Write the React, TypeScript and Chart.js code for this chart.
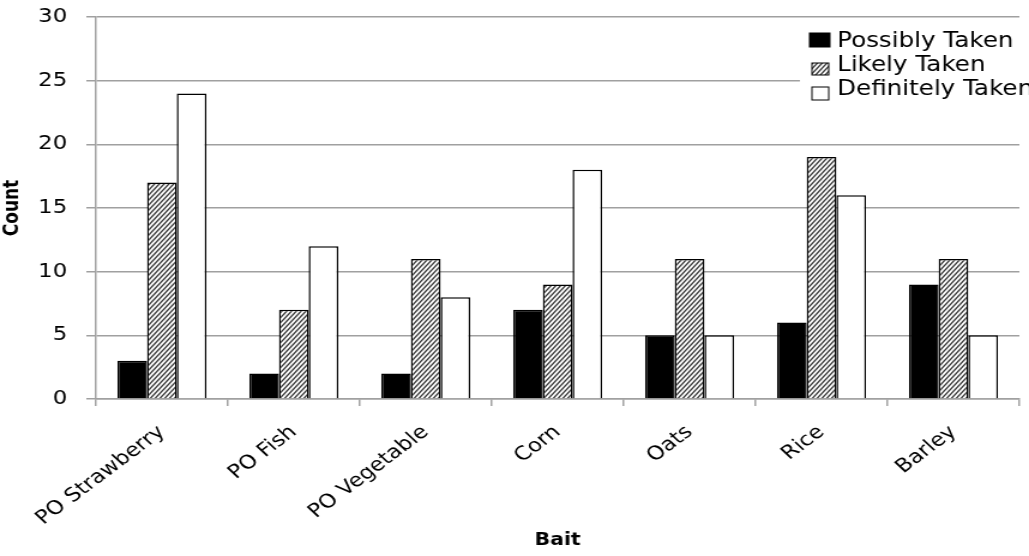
import { useEffect, useRef } from 'react';
import { Chart, registerables } from 'chart.js';

Chart.register(...registerables);

const categories = ['PO Strawberry', 'PO Fish', 'PO Vegetable', 'Corn', 'Oats', 'Rice', 'Barley'];
const possiblyTaken = [3, 2, 2, 7, 5, 6, 9];
const likelyTaken = [17, 7, 11, 9, 11, 19, 11];
const definitelyTaken = [24, 12, 8, 18, 5, 16, 5];
const seriesLabels = ['Possibly Taken', 'Likely Taken', 'Definitely Taken'];
const yTickValues = [0, 5, 10, 15, 20, 25, 30];
const yTitle = 'Count';
const xTitle = 'Bait';

const CANVAS_W = 858;
const CANVAS_H = 556;
const FONT = 'DejaVu Sans';
const AXIS_GRAY = '#a0a0a0';

function makeHatch(): CanvasPattern | string {
  const w = 4;
  const h = 5;
  const c = document.createElement('canvas');
  c.width = w;
  c.height = h;
  const g = c.getContext('2d');
  if (!g) return '#888';
  g.fillStyle = '#ffffff';
  g.fillRect(0, 0, w, h);
  g.strokeStyle = '#383838';
  g.lineWidth = 1.4;
  for (const m of [0, 1, 2]) {
    g.beginPath();
    g.moveTo(-w, h * (m + 1));
    g.lineTo(2 * w, h * (m - 2));
    g.stroke();
  }
  const p = g.createPattern(c, 'repeat');
  return p || '#888';
}

export default function App() {
  const ref = useRef<HTMLCanvasElement>(null);

  useEffect(() => {
    document.body.style.margin = '0';
    const canvas = ref.current;
    if (!canvas) return;
    const hatch = makeHatch();

    const overlay = {
      id: 'overlay',
      afterDraw(chart: any) {
        const ctx = chart.ctx as CanvasRenderingContext2D;
        const area = chart.chartArea;
        ctx.save();
        // legend background
        ctx.fillStyle = '#ffffff';
        ctx.fillRect(667, 23, 200, 82);
        ctx.font = `20.5px ${FONT}`;
        ctx.textBaseline = 'alphabetic';
        ctx.textAlign = 'left';
        const baselines = [47, 70.5, 95];
        const boxes = [
          { x: 675, y: 33, w: 17, h: 14 },
          { x: 677, y: 63, w: 14, h: 12 },
          { x: 677, y: 87, w: 14, h: 13 },
        ];
        const fills: any[] = ['#000000', hatch, '#ffffff'];
        seriesLabels.forEach((lab, i) => {
          const b = boxes[i];
          ctx.fillStyle = fills[i];
          ctx.fillRect(b.x, b.y, b.w, b.h);
          ctx.strokeStyle = '#000';
          ctx.lineWidth = 1;
          ctx.strokeRect(b.x, b.y, b.w, b.h);
          ctx.fillStyle = '#000';
          ctx.fillText(lab, 698, baselines[i]);
        });
        // axis titles
        ctx.font = `bold 17px ${FONT}`;
        ctx.textAlign = 'center';
        ctx.textBaseline = 'middle';
        ctx.fillText(xTitle, (area.left + area.right) / 2, 541);
        ctx.translate(11, (area.top + area.bottom) / 2);
        ctx.rotate(-Math.PI / 2);
        ctx.fillText(yTitle, 0, 0);
        ctx.restore();
      },
    };

    const chart = new Chart(canvas, {
      type: 'bar',
      data: {
        labels: categories,
        datasets: [
          {
            label: seriesLabels[0],
            data: possiblyTaken,
            backgroundColor: '#000000',
            borderColor: '#000000',
            borderWidth: 1.5,
          },
          {
            label: seriesLabels[1],
            data: likelyTaken,
            backgroundColor: hatch as any,
            borderColor: '#000000',
            borderWidth: 1.5,
          },
          {
            label: seriesLabels[2],
            data: definitelyTaken,
            backgroundColor: '#ffffff',
            borderColor: '#000000',
            borderWidth: 1.5,
          },
        ],
      },
      options: {
        responsive: false,
        animation: false,
        devicePixelRatio: 1,
        events: [],
        layout: { padding: { left: 0, right: 8, top: 17, bottom: 0 } },
        datasets: { bar: { categoryPercentage: 0.675, barPercentage: 1 } },
        plugins: {
          legend: { display: false },
          tooltip: { enabled: false },
        },
        scales: {
          x: {
            offset: true,
            grid: {
              offset: true,
              drawOnChartArea: false,
              drawTicks: true,
              tickLength: 7,
              color: AXIS_GRAY,
              lineWidth: 1.5,
            },
            border: { color: AXIS_GRAY, width: 1.5 },
            ticks: {
              autoSkip: false,
              minRotation: 42,
              maxRotation: 42,
              padding: 15,
              color: '#000000',
              font: { family: FONT, size: 19 },
            },
            afterFit: (s: any) => {
              s.height = CANVAS_H - 399;
              s.paddingTop = 0;
            },
          },
          y: {
            min: 0,
            max: 30,
            afterBuildTicks: (s: any) => {
              s.ticks = yTickValues.map((v) => ({ value: v }));
            },
            grid: {
              color: AXIS_GRAY,
              lineWidth: 1.5,
              tickLength: 8,
            },
            border: { color: AXIS_GRAY, width: 1.5 },
            ticks: {
              padding: 16,
              color: '#000000',
              font: { family: FONT, size: 19 },
            },
            afterFit: (s: any) => {
              s.width = 80;
              s.paddingTop = 0;
              s.paddingBottom = 0;
            },
          },
        },
      },
      plugins: [overlay],
    });

    return () => {
      chart.destroy();
    };
  }, []);

  return (
    <div style={{ position: 'absolute', left: 0, top: 0, width: 1029, height: 556 }}>
      <canvas
        ref={ref}
        width={CANVAS_W}
        height={CANVAS_H}
        style={{ width: '1029px', height: '556px', display: 'block' }}
      />
    </div>
  );
}
